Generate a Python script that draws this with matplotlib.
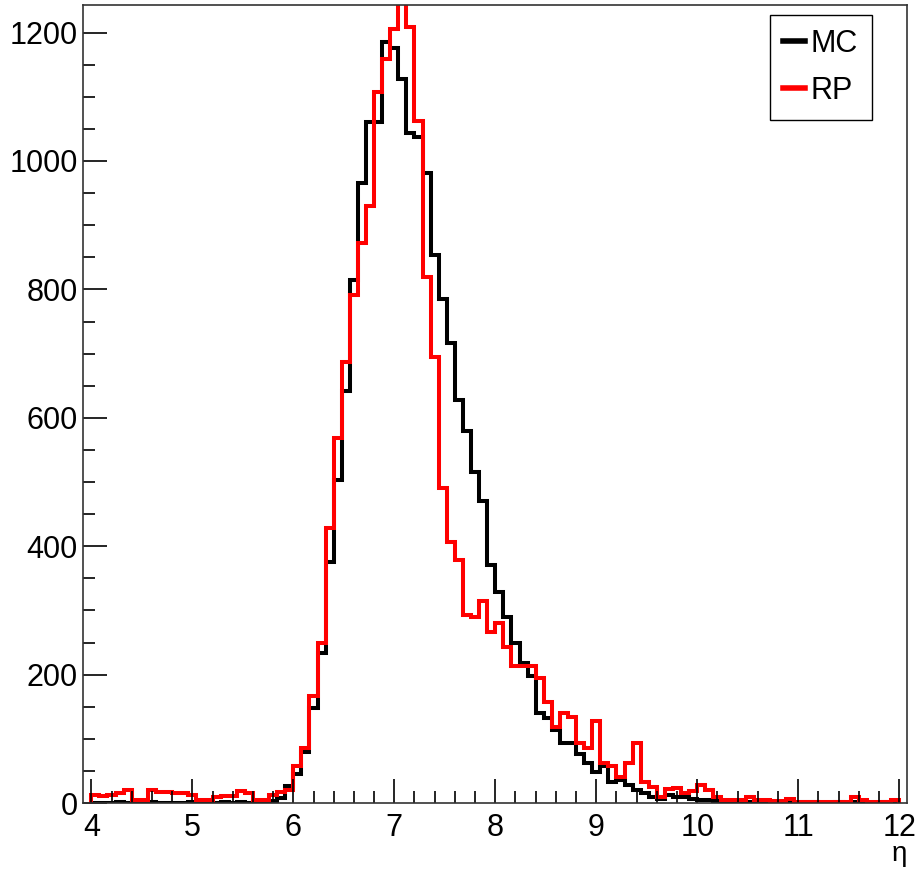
"""
Recreation of a ROOT-style eta histogram: MC vs RP.
"""

import numpy as np
import matplotlib
matplotlib.use("Agg")
import matplotlib.pyplot as plt
from matplotlib.ticker import MultipleLocator

plt.rcParams["font.family"] = ["Liberation Sans", "DejaVu Sans"]

# ─────────────────────────────────────────────
# Data: 100 bins from eta = 4 to 12 (width 0.08)
# ─────────────────────────────────────────────
eta_min, eta_max, n_bins = 4.0, 12.0, 100

mc_counts = [
    0, 0, 0, 1, 0, 0, 0, 1, 0, 0,
    0, 0, 1, 0, 0, 0, 1, 0, 1, 0,
    1, 2, 3, 8, 27, 45, 80, 148, 234, 376,
    503, 641, 815, 966, 1060, 1060, 1186, 1176, 1127, 1044,
    1038, 982, 854, 785, 716, 627, 579, 515, 470, 371,
    329, 290, 249, 218, 198, 141, 132, 114, 93, 93,
    77, 62, 49, 57, 33, 36, 28, 20, 16, 10,
    7, 13, 10, 10, 7, 5, 4, 3, 2, 2,
    3, 1, 2, 1, 0, 1, 2, 0, 1, 1,
    0, 0, 1, 0, 1, 0, 0, 0, 1, 0,
]

rp_counts = [
    12, 11, 13, 16, 21, 5, 5, 20, 17, 17,
    15, 15, 12, 5, 5, 10, 11, 11, 18, 15,
    5, 5, 13, 17, 21, 57, 86, 167, 250, 428,
    568, 687, 792, 873, 930, 1107, 1159, 1206, 1280, 1209,
    1062, 820, 695, 491, 407, 379, 293, 290, 314, 267,
    281, 243, 213, 213, 213, 194, 157, 119, 140, 134,
    93, 85, 127, 62, 57, 41, 62, 93, 33, 25,
    10, 22, 23, 15, 18, 28, 20, 9, 4, 4,
    4, 10, 5, 4, 3, 3, 7, 1, 1, 1,
    1, 1, 2, 1, 10, 5, 2, 1, 2, 4,
]

labels = ["MC", "RP"]
colors = ["black", "red"]

edges = np.linspace(eta_min, eta_max, n_bins + 1)

# ─────────────────────────────────────────────
# Figure
# ─────────────────────────────────────────────
fig = plt.figure(figsize=(9.2, 8.74), dpi=100)
ax = fig.add_axes([0.0905, 0.0812, 0.8957, 0.9131])

for counts, lab, col in zip([mc_counts, rp_counts], labels, colors):
    ax.stairs(counts, edges, baseline=0, color=col, linewidth=2.9, label=lab)

ax.set_xlim(3.92, 12.08)
ax.set_ylim(0, 1243)

ax.xaxis.set_major_locator(MultipleLocator(1))
ax.xaxis.set_minor_locator(MultipleLocator(0.2))
ax.yaxis.set_major_locator(MultipleLocator(200))
ax.yaxis.set_minor_locator(MultipleLocator(50))

ax.tick_params(which="both", direction="in", top=False, right=False,
               width=1.2, labelsize=22)
ax.tick_params(which="major", length=17)
ax.tick_params(which="minor", length=8.5)
ax.tick_params(axis="x", pad=7)
ax.tick_params(axis="y", pad=4)

for sp in ax.spines.values():
    sp.set_linewidth(1.2)
    sp.set_color("#333333")

ax.set_xlabel("η", fontsize=20, loc="right", labelpad=-1)

leg = ax.legend(loc="upper left", bbox_to_anchor=(0.833, 0.987),
                fontsize=22, frameon=True, fancybox=False,
                edgecolor="black", framealpha=1,
                handlelength=0.7, handletextpad=0.2,
                labelspacing=0.55, borderpad=0.45, borderaxespad=0)
leg.get_frame().set_linewidth(1.0)
for h in leg.get_lines():
    h.set_linewidth(4)

plt.savefig("out.png", dpi=100)
plt.close()
